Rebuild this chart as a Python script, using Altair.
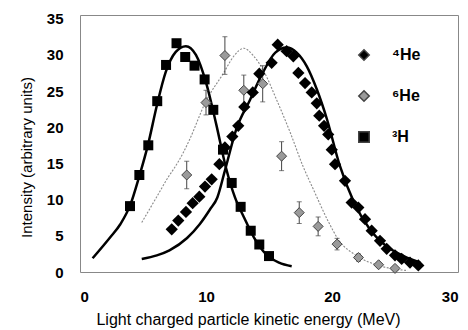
import altair as alt
import pandas as pd

# ---- data ----
series_names = ["⁴He", "⁶He", "³H"]

h3_E = [3.97, 4.71, 5.42, 6.13, 6.83, 7.66, 8.35, 9.09, 9.89, 10.58, 11.35, 12.04, 12.75, 13.55, 14.23, 15.0]
h3_I = [9.1, 13.4, 17.5, 23.6, 28.6, 31.6, 29.7, 28.5, 26.6, 22.4, 16.9, 12.3, 9.0, 5.7, 3.8, 2.2]

he4_E = [7.28, 7.80, 8.41, 8.94, 9.47, 9.92, 10.45, 11.06, 11.5, 12.09, 12.56, 13.04, 13.71, 14.23, 15.21,
         15.69, 16.4, 16.93, 17.33, 17.86, 18.39, 18.79, 18.99, 19.37, 19.7, 19.98, 20.24, 21.03, 21.56, 22.09,
         22.62, 23.15, 23.81, 24.34, 25.0, 25.53, 26.19, 26.85]
he4_I = [5.9, 7.1, 8.3, 9.5, 10.4, 11.8, 12.8, 14.9, 17.2, 18.7, 20.2, 22.8, 24.8, 27.4, 28.9,
         31.4, 30.5, 29.8, 27.5, 26.1, 24.8, 23.3, 21.6, 20.2, 19.0, 16.9, 14.9, 12.6, 9.6, 8.9,
         7.3, 5.7, 4.3, 3.2, 2.3, 1.8, 1.3, 0.9]

he6_E = [8.47, 10.0, 11.5, 13.0, 14.5, 16.0, 17.4, 18.9, 20.4, 22.1, 23.7, 25.0]
he6_I = [13.4, 23.4, 29.9, 25.1, 26.0, 16.0, 8.2, 6.3, 3.85, 2.0, 1.0, 0.5]
he6_err = [1.9, 1.7, 2.6, 2.1, 2.5, 2.0, 1.5, 1.3, 0.8, 0.5, 0.3, 0.2]

h3_fit_E = [1.0, 2.4, 3.2, 4.0, 4.7, 5.4, 6.1, 6.8, 7.6, 8.4, 9.2, 10.0, 10.8, 11.6, 12.3, 13.0, 13.8, 14.8, 15.8, 16.8]
h3_fit_I = [1.9, 4.8, 6.6, 9.3, 13.2, 17.6, 23.0, 27.6, 30.4, 31.2, 30.0, 26.2, 20.5, 14.3, 10.3, 7.6, 4.8, 2.4, 1.3, 0.8]

he4_fit_E = [4.9, 6.1, 7.1, 8.5, 9.5, 10.3, 10.9, 11.5, 12.4, 13.5, 14.5, 15.5, 16.4, 17.2, 18.0, 18.8, 19.6,
             20.6, 21.7, 23.0, 24.3, 25.7, 27.0]
he4_fit_I = [1.8, 2.3, 3.0, 4.7, 6.6, 8.6, 10.3, 14.0, 19.7, 23.8, 27.5, 30.3, 31.0, 30.3, 28.4, 25.2, 21.1,
             14.8, 9.8, 5.9, 3.6, 2.2, 1.3]

he6_fit_E = [4.9, 6.0, 7.0, 7.5, 8.2, 8.7, 10.0, 11.4, 12.2, 13.0, 13.8, 14.6, 15.6, 16.7, 17.7, 18.5, 19.7,
             20.5, 22.0, 23.5, 25.0, 26.0]
he6_fit_I = [6.85, 10.1, 13.1, 14.4, 16.5, 18.3, 23.6, 27.5, 29.8, 30.9, 29.8, 27.7, 23.8, 19.2, 14.6, 11.5, 7.0,
             4.5, 2.2, 1.0, 0.4, 0.2]

x_ticks = [0, 10, 20, 30]
y_ticks = [0, 5, 10, 15, 20, 25, 30, 35]

# ---- tables ----
pts = pd.DataFrame({
    "E": he4_E + he6_E + h3_E,
    "I": he4_I + he6_I + h3_I,
    "series": [series_names[0]] * len(he4_E) + [series_names[1]] * len(he6_E) + [series_names[2]] * len(h3_E),
})
err = pd.DataFrame({
    "E": he6_E,
    "lo": [v - e for v, e in zip(he6_I, he6_err)],
    "hi": [v + e for v, e in zip(he6_I, he6_err)],
})
h3_fit = pd.DataFrame({"E": h3_fit_E, "I": h3_fit_I})
he4_fit = pd.DataFrame({"E": he4_fit_E, "I": he4_fit_I})
he6_fit = pd.DataFrame({"E": he6_fit_E, "I": he6_fit_I})

FONT = "Liberation Sans"

xs = alt.Scale(domain=[0, 30], nice=False)
ys = alt.Scale(domain=[0, 35.5], nice=False)

x_axis = alt.Axis(values=x_ticks, grid=False, ticks=False, domain=False,
                  labelPadding=17, labelFontSize=15, labelFontWeight="bold", labelColor="black",
                  title="Light charged particle kinetic energy (MeV)", titleFontSize=16,
                  titleFontWeight="normal", titleColor="black", titleX=168, titleY=47,
                  titleBaseline="middle", titleAlign="center")
y_axis = alt.Axis(values=y_ticks, grid=False, ticks=False, domain=False,
                  labelPadding=17, labelFontSize=15, labelFontWeight="bold", labelColor="black",
                  title="Intensity (arbitrary units)", titleFontSize=15, titleFontWeight="normal",
                  titleColor="black", titleX=-54, titleY=142, titleBaseline="middle", titleAlign="center")

X = alt.X("E:Q", scale=xs, axis=x_axis)
Y = alt.Y("I:Q", scale=ys, axis=y_axis)

line_h3 = alt.Chart(h3_fit).mark_line(color="black", strokeWidth=2.5, interpolate="monotone").encode(x=X, y=Y)
line_he4 = alt.Chart(he4_fit).mark_line(color="black", strokeWidth=2.5, interpolate="monotone").encode(x=X, y=Y)
line_he6 = alt.Chart(he6_fit).mark_line(color="#8a8a8a", strokeWidth=1.1, strokeDash=[2, 1.5],
                                        interpolate="monotone").encode(x=X, y=Y)

bars = alt.Chart(err).mark_rule(color="#444", strokeWidth=1).encode(
    x=X, y=alt.Y("lo:Q", scale=ys, axis=y_axis), y2="hi:Q")
cap_lo = alt.Chart(err).mark_tick(color="#444", orient="horizontal", size=5, thickness=1).encode(
    x=X, y=alt.Y("lo:Q", scale=ys, axis=y_axis))
cap_hi = alt.Chart(err).mark_tick(color="#444", orient="horizontal", size=5, thickness=1).encode(
    x=X, y=alt.Y("hi:Q", scale=ys, axis=y_axis))

color_scale = alt.Scale(domain=series_names, range=["black", "#9a9a9a", "black"])
shape_scale = alt.Scale(domain=series_names, range=["diamond", "diamond", "square"])
legend = alt.Legend(title=None, orient="none", legendX=276, legendY=32)


def point_layer(name, size, **mark_kw):
    return alt.Chart(pts).transform_filter(alt.datum.series == name).mark_point(
        filled=True, size=size, opacity=1, **mark_kw
    ).encode(
        x=X, y=Y,
        color=alt.Color("series:N", scale=color_scale, legend=legend),
        shape=alt.Shape("series:N", scale=shape_scale, legend=legend),
    )


pts_he6 = point_layer(series_names[1], 100, stroke="#444", strokeWidth=1)
pts_h3 = point_layer(series_names[2], 100)
pts_he4 = point_layer(series_names[0], 150)

chart = alt.layer(line_he6, line_h3, line_he4, bars, cap_lo, cap_hi, pts_he6, pts_h3, pts_he4).properties(
    width=378, height=257,
    autosize=alt.AutoSizeParams(type="none"),
    padding={"left": 80, "top": 15, "right": 10, "bottom": 58},
    background="white",
).configure_view(
    stroke="#888", strokeWidth=1
).configure_axis(
    labelFont=FONT, titleFont=FONT
).configure_legend(
    padding=0, symbolSize=110, labelFontSize=16, labelFontWeight="bold", labelFont=FONT,
    labelColor="black", rowPadding=23, labelOffset=20, symbolOpacity=1
)

chart.save("out.html", embed_options={"renderer": "svg", "actions": False})
